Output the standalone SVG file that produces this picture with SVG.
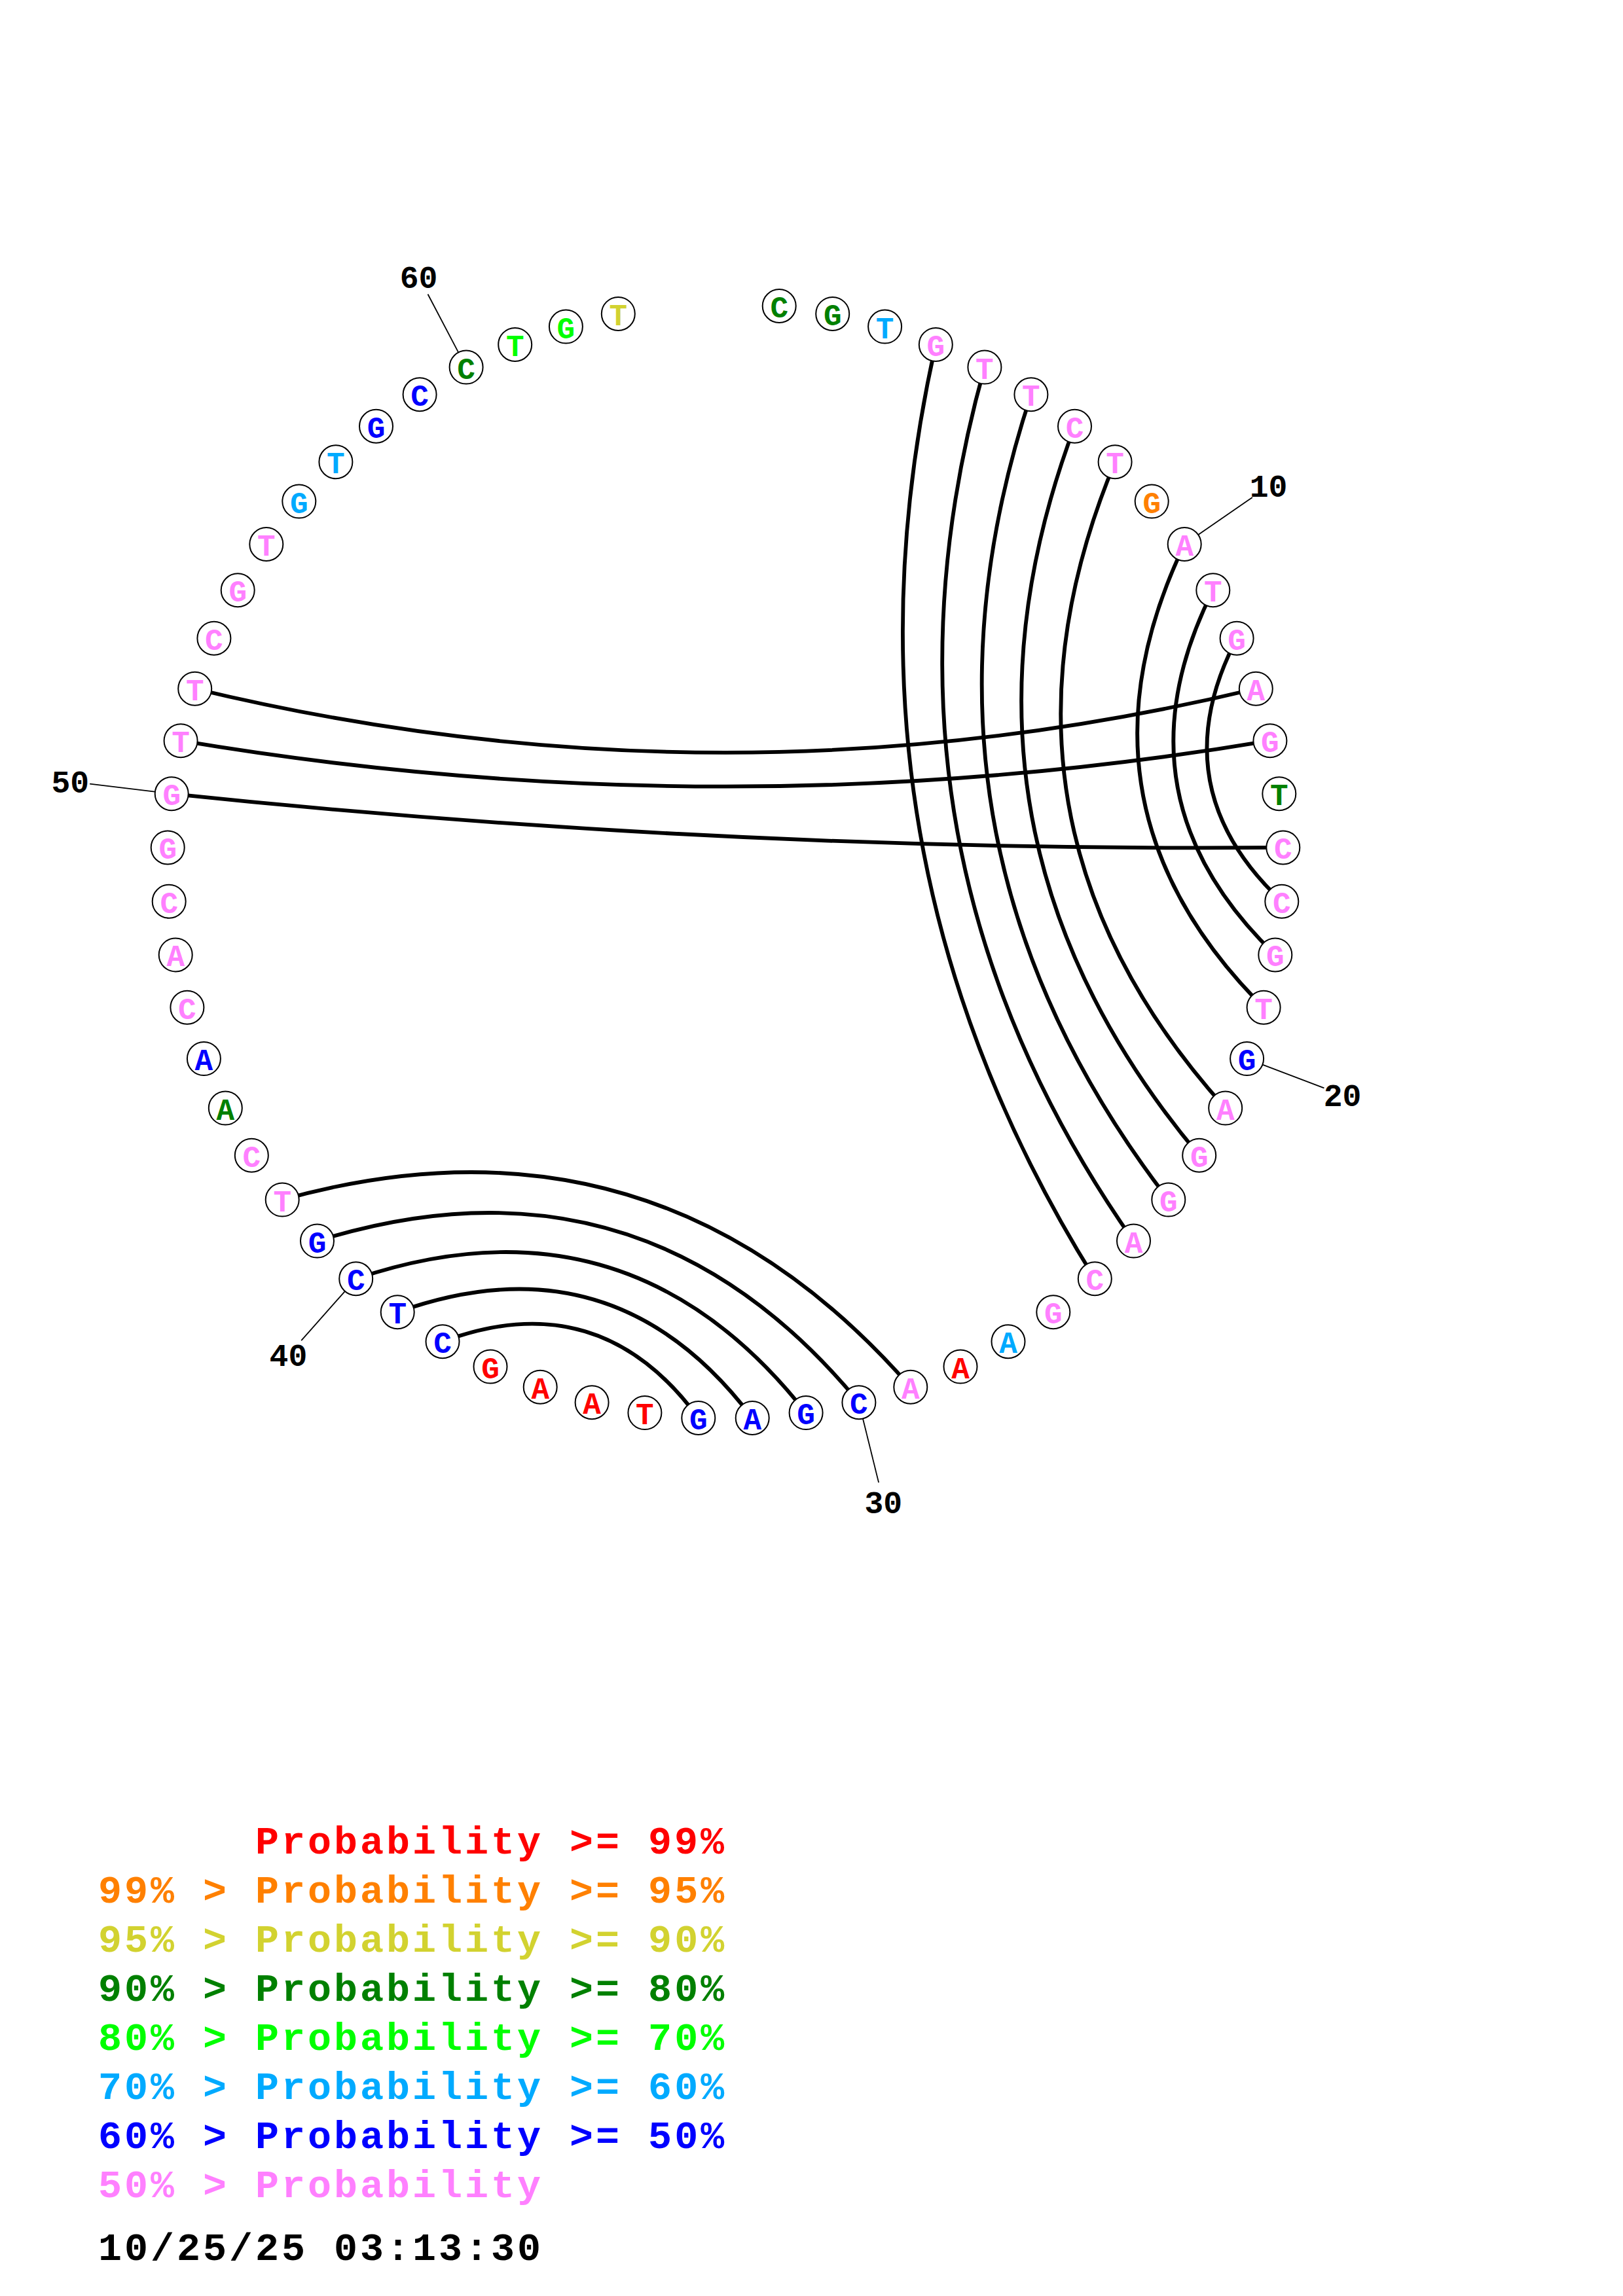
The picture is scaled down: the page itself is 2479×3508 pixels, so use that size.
<svg xmlns="http://www.w3.org/2000/svg" width="2479" height="3508" viewBox="0 0 2479 3508">
<style>
.bg{fill:#ffffff}
.arc{fill:none;stroke:#000;stroke-width:5.8}
.tick{stroke:#000;stroke-width:1.8}
.nc{fill:#fff;stroke:#000;stroke-width:2}
.nt{font-family:"Liberation Mono","DejaVu Sans Mono",monospace;font-weight:bold;font-size:46px;text-anchor:middle}
.lbl{font-family:"Liberation Mono","DejaVu Sans Mono",monospace;font-weight:bold;font-size:48px;text-anchor:middle;fill:#000}
.leg{font-family:"Liberation Mono","DejaVu Sans Mono",monospace;font-weight:bold;font-size:60px;letter-spacing:4px}
.pk{fill:#FF80FF}.rd{fill:#FF0000}.or{fill:#FF8000}.ye{fill:#D2D230}.dg{fill:#008000}.lg{fill:#00FF00}.lb{fill:#00AAFF}.bl{fill:#0000FF}.k{fill:#000}
</style>
<rect class="bg" x="0" y="0" width="2479" height="3508"/>
<g id="connectors">
<path class="arc" d="M1429.3,526.4 Q1257.3,1290.1 1672.3,1953.8"/>
<path class="arc" d="M1503.9,561.1 Q1301.7,1282.5 1731.5,1896.1"/>
<path class="arc" d="M1574.9,602.8 Q1353.2,1273.7 1784.8,1833.1"/>
<path class="arc" d="M1641.5,651.2 Q1411.4,1263.7 1831.7,1765.2"/>
<path class="arc" d="M1703.1,705.8 Q1475.9,1252.65 1871.7,1693.1"/>
<path class="arc" d="M1809.2,831.5 Q1619.25,1228.2 1930.1,1539.3"/>
<path class="arc" d="M1852.8,901.7 Q1695.3,1215.3 1947.8,1458.9"/>
<path class="arc" d="M1889.1,975.2 Q1771.25,1202.2 1957.8,1377.2"/>
<path class="arc" d="M1918.3,1052.2 Q1108,1247.5 297.7,1052.2"/>
<path class="arc" d="M1939.9,1131.7 Q1108,1271.7 276.1,1131.7"/>
<path class="arc" d="M1959.8,1294.9 Q1108.7,1301.8 262.2,1212.8"/>
<path class="arc" d="M1390.8,2119.2 Q1001.3,1673.35 431.2,1833.1"/>
<path class="arc" d="M1311.9,2142.7 Q981.1,1741.2 484.5,1896.1"/>
<path class="arc" d="M1231.1,2158.6 Q959.8,1813.0 543.7,1953.8"/>
<path class="arc" d="M1149.2,2166.5 Q937.7,1886.25 607.2,2004.8"/>
<path class="arc" d="M1066.8,2166.5 Q915.6,1960.15 676.0,2049.8"/>
</g>
<g id="ticks">
<line class="tick" x1="1830.6" y1="816.7" x2="1912.9" y2="759.9"/>
<line class="tick" x1="1929.0" y1="1626.8" x2="2022.4" y2="1662.3"/>
<line class="tick" x1="1318.1" y1="2168.0" x2="1342.1" y2="2265.1"/>
<line class="tick" x1="526.5" y1="1973.3" x2="460.2" y2="2048.2"/>
<line class="tick" x1="236.4" y1="1209.7" x2="137.1" y2="1197.6"/>
<line class="tick" x1="700.0" y1="538.1" x2="653.5" y2="449.5"/>
</g>
<g id="labels">
<text class="lbl" x="1937.6" y="759">10</text>
<text class="lbl" x="2050.5" y="1690">20</text>
<text class="lbl" x="1349.2" y="2312">30</text>
<text class="lbl" x="440.4" y="2087">40</text>
<text class="lbl" x="107.3" y="1211">50</text>
<text class="lbl" x="639.6" y="440">60</text>
</g>
<g id="n1"><circle class="nc" cx="1190.2" cy="467.5" r="25.5"/><text class="nt dg" x="1190.2" y="485">C</text></g>
<g id="n2"><circle class="nc" cx="1271.7" cy="479.4" r="25.5"/><text class="nt dg" x="1271.7" y="496.9">G</text></g>
<g id="n3"><circle class="nc" cx="1351.6" cy="499.1" r="25.5"/><text class="nt lb" x="1351.6" y="516.6">T</text></g>
<g id="n4"><circle class="nc" cx="1429.3" cy="526.4" r="25.5"/><text class="nt pk" x="1429.3" y="543.9">G</text></g>
<g id="n5"><circle class="nc" cx="1503.9" cy="561.1" r="25.5"/><text class="nt pk" x="1503.9" y="578.6">T</text></g>
<g id="n6"><circle class="nc" cx="1574.9" cy="602.8" r="25.5"/><text class="nt pk" x="1574.9" y="620.3">T</text></g>
<g id="n7"><circle class="nc" cx="1641.5" cy="651.2" r="25.5"/><text class="nt pk" x="1641.5" y="668.7">C</text></g>
<g id="n8"><circle class="nc" cx="1703.1" cy="705.8" r="25.5"/><text class="nt pk" x="1703.1" y="723.3">T</text></g>
<g id="n9"><circle class="nc" cx="1759.2" cy="766.1" r="25.5"/><text class="nt or" x="1759.2" y="783.6">G</text></g>
<g id="n10"><circle class="nc" cx="1809.2" cy="831.5" r="25.5"/><text class="nt pk" x="1809.2" y="849">A</text></g>
<g id="n11"><circle class="nc" cx="1852.8" cy="901.7" r="25.5"/><text class="nt pk" x="1852.8" y="919.2">T</text></g>
<g id="n12"><circle class="nc" cx="1889.1" cy="975.2" r="25.5"/><text class="nt pk" x="1889.1" y="992.7">G</text></g>
<g id="n13"><circle class="nc" cx="1918.3" cy="1052.2" r="25.5"/><text class="nt pk" x="1918.3" y="1069.7">A</text></g>
<g id="n14"><circle class="nc" cx="1939.9" cy="1131.7" r="25.5"/><text class="nt pk" x="1939.9" y="1149.2">G</text></g>
<g id="n15"><circle class="nc" cx="1953.8" cy="1212.8" r="25.5"/><text class="nt dg" x="1953.8" y="1230.3">T</text></g>
<g id="n16"><circle class="nc" cx="1959.8" cy="1294.9" r="25.5"/><text class="nt pk" x="1959.8" y="1312.4">C</text></g>
<g id="n17"><circle class="nc" cx="1957.8" cy="1377.2" r="25.5"/><text class="nt pk" x="1957.8" y="1394.7">C</text></g>
<g id="n18"><circle class="nc" cx="1947.8" cy="1458.9" r="25.5"/><text class="nt pk" x="1947.8" y="1476.4">G</text></g>
<g id="n19"><circle class="nc" cx="1930.1" cy="1539.3" r="25.5"/><text class="nt pk" x="1930.1" y="1556.8">T</text></g>
<g id="n20"><circle class="nc" cx="1904.6" cy="1617.6" r="25.5"/><text class="nt bl" x="1904.6" y="1635.1">G</text></g>
<g id="n21"><circle class="nc" cx="1871.7" cy="1693.1" r="25.5"/><text class="nt pk" x="1871.7" y="1710.6">A</text></g>
<g id="n22"><circle class="nc" cx="1831.7" cy="1765.2" r="25.5"/><text class="nt pk" x="1831.7" y="1782.7">G</text></g>
<g id="n23"><circle class="nc" cx="1784.8" cy="1833.1" r="25.5"/><text class="nt pk" x="1784.8" y="1850.6">G</text></g>
<g id="n24"><circle class="nc" cx="1731.5" cy="1896.1" r="25.5"/><text class="nt pk" x="1731.5" y="1913.6">A</text></g>
<g id="n25"><circle class="nc" cx="1672.3" cy="1953.8" r="25.5"/><text class="nt pk" x="1672.3" y="1971.3">C</text></g>
<g id="n26"><circle class="nc" cx="1608.8" cy="2004.8" r="25.5"/><text class="nt pk" x="1608.8" y="2022.3">G</text></g>
<g id="n27"><circle class="nc" cx="1540.0" cy="2049.8" r="25.5"/><text class="nt lb" x="1540.0" y="2067.3">A</text></g>
<g id="n28"><circle class="nc" cx="1467.0" cy="2088.1" r="25.5"/><text class="nt rd" x="1467.0" y="2105.6">A</text></g>
<g id="n29"><circle class="nc" cx="1390.8" cy="2119.2" r="25.5"/><text class="nt pk" x="1390.8" y="2136.7">A</text></g>
<g id="n30"><circle class="nc" cx="1311.9" cy="2142.7" r="25.5"/><text class="nt bl" x="1311.9" y="2160.2">C</text></g>
<g id="n31"><circle class="nc" cx="1231.1" cy="2158.6" r="25.5"/><text class="nt bl" x="1231.1" y="2176.1">G</text></g>
<g id="n32"><circle class="nc" cx="1149.2" cy="2166.5" r="25.5"/><text class="nt bl" x="1149.2" y="2184">A</text></g>
<g id="n33"><circle class="nc" cx="1066.8" cy="2166.5" r="25.5"/><text class="nt bl" x="1066.8" y="2184">G</text></g>
<g id="n34"><circle class="nc" cx="984.9" cy="2158.6" r="25.5"/><text class="nt rd" x="984.9" y="2176.1">T</text></g>
<g id="n35"><circle class="nc" cx="904.1" cy="2142.7" r="25.5"/><text class="nt rd" x="904.1" y="2160.2">A</text></g>
<g id="n36"><circle class="nc" cx="825.2" cy="2119.2" r="25.5"/><text class="nt rd" x="825.2" y="2136.7">A</text></g>
<g id="n37"><circle class="nc" cx="749.0" cy="2088.1" r="25.5"/><text class="nt rd" x="749.0" y="2105.6">G</text></g>
<g id="n38"><circle class="nc" cx="676.0" cy="2049.8" r="25.5"/><text class="nt bl" x="676.0" y="2067.3">C</text></g>
<g id="n39"><circle class="nc" cx="607.2" cy="2004.8" r="25.5"/><text class="nt bl" x="607.2" y="2022.3">T</text></g>
<g id="n40"><circle class="nc" cx="543.7" cy="1953.8" r="25.5"/><text class="nt bl" x="543.7" y="1971.3">C</text></g>
<g id="n41"><circle class="nc" cx="484.5" cy="1896.1" r="25.5"/><text class="nt bl" x="484.5" y="1913.6">G</text></g>
<g id="n42"><circle class="nc" cx="431.2" cy="1833.1" r="25.5"/><text class="nt pk" x="431.2" y="1850.6">T</text></g>
<g id="n43"><circle class="nc" cx="384.3" cy="1765.2" r="25.5"/><text class="nt pk" x="384.3" y="1782.7">C</text></g>
<g id="n44"><circle class="nc" cx="344.3" cy="1693.1" r="25.5"/><text class="nt dg" x="344.3" y="1710.6">A</text></g>
<g id="n45"><circle class="nc" cx="311.4" cy="1617.6" r="25.5"/><text class="nt bl" x="311.4" y="1635.1">A</text></g>
<g id="n46"><circle class="nc" cx="285.9" cy="1539.3" r="25.5"/><text class="nt pk" x="285.9" y="1556.8">C</text></g>
<g id="n47"><circle class="nc" cx="268.2" cy="1458.9" r="25.5"/><text class="nt pk" x="268.2" y="1476.4">A</text></g>
<g id="n48"><circle class="nc" cx="258.2" cy="1377.2" r="25.5"/><text class="nt pk" x="258.2" y="1394.7">C</text></g>
<g id="n49"><circle class="nc" cx="256.2" cy="1294.9" r="25.5"/><text class="nt pk" x="256.2" y="1312.4">G</text></g>
<g id="n50"><circle class="nc" cx="262.2" cy="1212.8" r="25.5"/><text class="nt pk" x="262.2" y="1230.3">G</text></g>
<g id="n51"><circle class="nc" cx="276.1" cy="1131.7" r="25.5"/><text class="nt pk" x="276.1" y="1149.2">T</text></g>
<g id="n52"><circle class="nc" cx="297.7" cy="1052.2" r="25.5"/><text class="nt pk" x="297.7" y="1069.7">T</text></g>
<g id="n53"><circle class="nc" cx="326.9" cy="975.2" r="25.5"/><text class="nt pk" x="326.9" y="992.7">C</text></g>
<g id="n54"><circle class="nc" cx="363.2" cy="901.7" r="25.5"/><text class="nt pk" x="363.2" y="919.2">G</text></g>
<g id="n55"><circle class="nc" cx="406.8" cy="831.5" r="25.5"/><text class="nt pk" x="406.8" y="849">T</text></g>
<g id="n56"><circle class="nc" cx="456.8" cy="766.1" r="25.5"/><text class="nt lb" x="456.8" y="783.6">G</text></g>
<g id="n57"><circle class="nc" cx="512.9" cy="705.8" r="25.5"/><text class="nt lb" x="512.9" y="723.3">T</text></g>
<g id="n58"><circle class="nc" cx="574.5" cy="651.2" r="25.5"/><text class="nt bl" x="574.5" y="668.7">G</text></g>
<g id="n59"><circle class="nc" cx="641.1" cy="602.8" r="25.5"/><text class="nt bl" x="641.1" y="620.3">C</text></g>
<g id="n60"><circle class="nc" cx="712.1" cy="561.1" r="25.5"/><text class="nt dg" x="712.1" y="578.6">C</text></g>
<g id="n61"><circle class="nc" cx="786.7" cy="526.4" r="25.5"/><text class="nt lg" x="786.7" y="543.9">T</text></g>
<g id="n62"><circle class="nc" cx="864.4" cy="499.1" r="25.5"/><text class="nt lg" x="864.4" y="516.6">G</text></g>
<g id="n63"><circle class="nc" cx="944.3" cy="479.4" r="25.5"/><text class="nt ye" x="944.3" y="496.9">T</text></g>
<g id="legend">
<text class="leg rd" x="390" y="2832">Probability &gt;= 99%</text>
<text class="leg or" x="150" y="2907">99% &gt; Probability &gt;= 95%</text>
<text class="leg ye" x="150" y="2982">95% &gt; Probability &gt;= 90%</text>
<text class="leg dg" x="150" y="3057">90% &gt; Probability &gt;= 80%</text>
<text class="leg lg" x="150" y="3132">80% &gt; Probability &gt;= 70%</text>
<text class="leg lb" x="150" y="3207">70% &gt; Probability &gt;= 60%</text>
<text class="leg bl" x="150" y="3282">60% &gt; Probability &gt;= 50%</text>
<text class="leg pk" x="150" y="3357">50% &gt; Probability</text>
<text class="leg k" x="150" y="3453">10/25/25 03:13:30</text>
</g>
</svg>
